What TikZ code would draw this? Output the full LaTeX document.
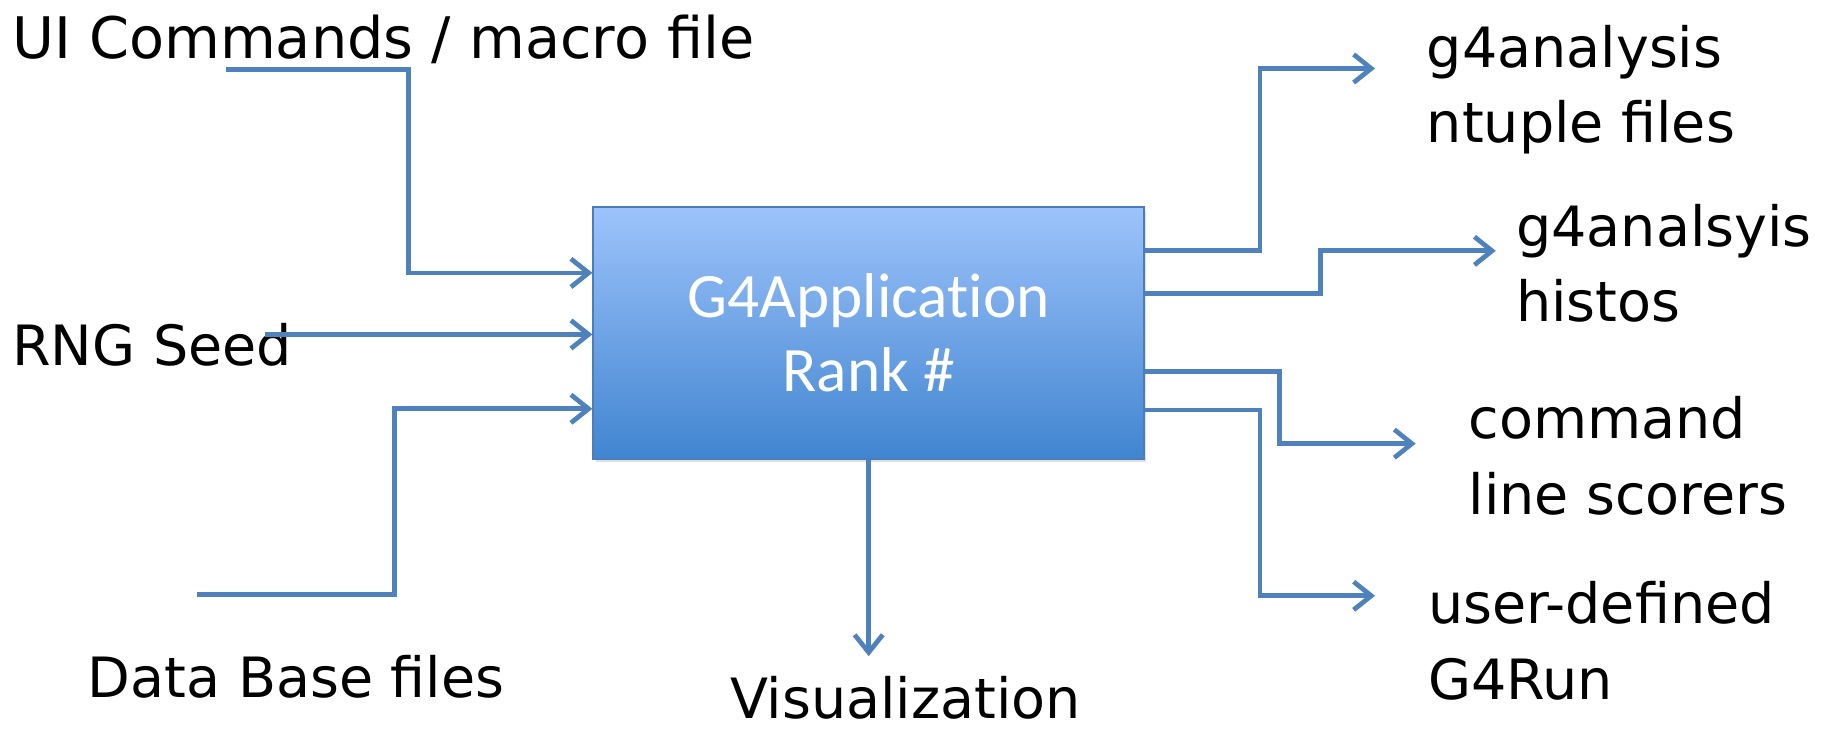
\documentclass[tikz,border=0pt]{standalone}
\usepackage{fontspec}
\setmainfont{DejaVu Sans}
\newfontfamily\boxfont[Ligatures=NoCommon]{Carlito}
\usetikzlibrary{arrows.meta,shadows}
\definecolor{linkblue}{HTML}{4F81BD}
\definecolor{boxedge}{HTML}{4A7EBB}
\definecolor{boxtop}{HTML}{9DC3FB}
\definecolor{boxbot}{HTML}{4185D0}

\begin{document}
\begin{tikzpicture}[x=0.011614cm,y=-0.011614cm,
	link/.style={draw=linkblue,line width=1.35pt,-{Straight Barb[length=5pt,width=8pt,line width=1.35pt]}},
	lbl/.style={font=\fontsize{15.8}{21.5}\selectfont,inner sep=0pt,align=left,anchor=base west},
	appbox/.style={minimum width=5.505cm,minimum height=2.52cm,draw=boxedge,line width=0.6pt,
		top color=boxtop,bottom color=boxbot,text=white,align=center,
		font=\boxfont\fontsize{18}{21.2}\selectfont,
		drop shadow={opacity=0.25,shadow xshift=0.6pt,shadow yshift=-0.8pt}}]
		\useasboundingbox (0,0) rectangle (1568,628.6);
		\node[appbox] (app) at (748,286.5) {G4Application\\Rank \#};
		% labels, multi-line ones placed by the baseline of their last line
		\node[lbl,font=\fontsize{16.3}{21.5}\selectfont] (ui) at (10,50) {UI Commands / macro file};
		\node[lbl] (rng) at (10,315) {RNG Seed};
		\node[lbl] (db) at (75,601) {Data Base files};
		\node[lbl] (vis) at (628,619) {Visualization};
		\node[lbl] (ntuple) at (1228,123) {g4analysis\\ntuple files};
		\node[lbl] (histos) at (1305,277) {g4analsyis\\histos};
		\node[lbl] (scorers) at (1264,443) {command\\line scorers};
		\node[lbl] (userrun) at (1229,602) {user-defined\\G4Run};
		\coordinate (uiend) at (195,60);
		\coordinate (rngend) at (228,288);
		\coordinate (dbend) at (170,512);
		\coordinate (visend) at (748,565);
		\coordinate (ntupleend) at (1184,59);
		\coordinate (histosend) at (1288,216);
		\coordinate (scorersend) at (1219,382);
		\coordinate (userrunend) at (1184,513);
		\draw[link] (uiend) -| (352,235) -- (app.west |- 0,235);
		\draw[link] (rngend) -- (app.west |- rngend);
		\draw[link] (dbend) -| (340,352) -- (app.west |- 0,352);
		\draw[link] (app.south) -- (visend);
		\draw[link] (app.east |- 0,216) -| (1085,59) -- (ntupleend);
		\draw[link] (app.east |- 0,253) -| (1137,216) -- (histosend);
		\draw[link] (app.east |- 0,320) -| (1102,382) -- (scorersend);
		\draw[link] (app.east |- 0,353) -| (1085,513) -- (userrunend);
	\end{tikzpicture}
\end{document}
